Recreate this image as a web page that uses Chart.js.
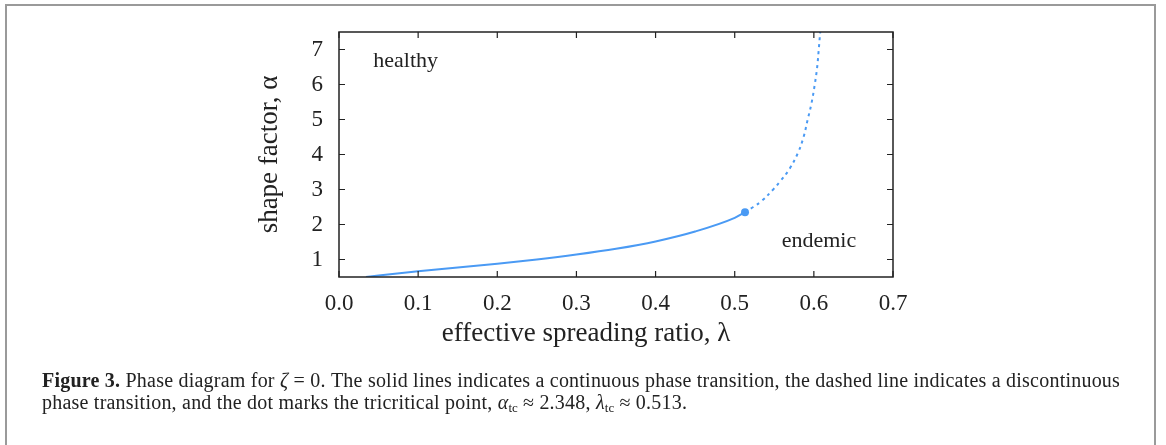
<!DOCTYPE html>
<html>
<head>
<meta charset="utf-8">
<script src="https://cdn.jsdelivr.net/npm/chart.js@4.4.1/dist/chart.umd.min.js"></script>
<style>
  html, body { margin: 0; padding: 0; background: #fff; }
  #wrap { position: relative; width: 1166px; height: 445px; overflow: hidden; }
  #frame { position: absolute; left: 5px; top: 4px; width: 1151px; height: 460px;
           border: 2px solid #9a9a9a; box-sizing: border-box; }
  #c { position: absolute; left: 0; top: 0; }
  #cap { position: absolute; left: 42px; top: 369px; font-family: "Liberation Serif", serif;
         font-size: 20px; line-height: 22px; letter-spacing: 0.22px; color: #222; white-space: nowrap; }
  #cap sub { font-size: 13px; vertical-align: -3px; line-height: 0; letter-spacing: 0; }
</style>
</head>
<body>
<div id="wrap">
  <div id="frame"></div>
  <canvas id="c" width="1166" height="445"></canvas>
  <div id="cap"><b>Figure 3.</b> Phase diagram for <i>ζ</i> = 0. The solid lines indicates a continuous phase transition, the dashed line indicates a discontinuous<br>phase transition, and the dot marks the tricritical point, <i>α</i><sub>tc</sub> ≈ 2.348, <i>λ</i><sub>tc</sub> ≈ 0.513.</div>
</div>
<script>
// valeurs
var lamSolid   = [0.034, 0.05, 0.1, 0.15, 0.2, 0.25, 0.3, 0.35, 0.4, 0.45, 0.5, 0.513];
var alphaSolid = [0.5, 0.542, 0.662, 0.772, 0.882, 1.002, 1.142, 1.307, 1.517, 1.80, 2.19, 2.348];

var lamDashed   = [0.513, 0.5235, 0.534, 0.549, 0.557, 0.569, 0.580, 0.587, 0.592, 0.597, 0.601, 0.604, 0.606, 0.608];
var alphaDashed = [2.348, 2.50, 2.67, 3.01, 3.22, 3.58, 4.05, 4.50, 4.98, 5.46, 5.98, 6.46, 6.95, 7.5];

var lamTc = 0.513, alphaTc = 2.348;

var xTicks = [0.0, 0.1, 0.2, 0.3, 0.4, 0.5, 0.6, 0.7];
var yTicks = [1, 2, 3, 4, 5, 6, 7];

var blue = '#4a9af4';
var ink = '#222';
var serif = '"Liberation Serif", serif';

function pts(xs, ys) {
  return xs.map(function (x, i) { return { x: x, y: ys[i] }; });
}

// cadre + graduations vers l'interieur, textes
var decor = {
  id: 'decor',
  afterDatasetsDraw: function (chart) {
    var ctx = chart.ctx, a = chart.chartArea;
    var xs = chart.scales.x, ys = chart.scales.y;
    ctx.save();
    ctx.strokeStyle = ink;
    ctx.lineWidth = 1.5;
    ctx.strokeRect(a.left, a.top, a.right - a.left, a.bottom - a.top);
    ctx.lineWidth = 1.2;
    ctx.beginPath();
    xTicks.forEach(function (v) {
      var p = xs.getPixelForValue(v);
      ctx.moveTo(p, a.bottom); ctx.lineTo(p, a.bottom - 6);
      ctx.moveTo(p, a.top); ctx.lineTo(p, a.top + 6);
    });
    yTicks.forEach(function (v) {
      var p = ys.getPixelForValue(v);
      ctx.moveTo(a.left, p); ctx.lineTo(a.left + 6, p);
      ctx.moveTo(a.right, p); ctx.lineTo(a.right - 6, p);
    });
    ctx.stroke();

    ctx.fillStyle = ink;
    ctx.font = '22px ' + serif;
    ctx.textAlign = 'left';
    ctx.textBaseline = 'alphabetic';
    ctx.fillText('healthy', xs.getPixelForValue(0.0433), ys.getPixelForValue(6.5));
    ctx.fillText('endemic', xs.getPixelForValue(0.5594), ys.getPixelForValue(1.36));

    ctx.font = '27px ' + serif;
    ctx.textAlign = 'center';
    ctx.fillText('effective spreading ratio, λ', (a.left + a.right) / 2 - 30, a.bottom + 64);
    ctx.translate(270, (a.top + a.bottom) / 2);
    ctx.rotate(-Math.PI / 2);
    ctx.textBaseline = 'middle';
    ctx.fillText('shape factor, α', 0, 0);
    ctx.restore();
  }
};

var el = document.getElementById('c');
var chart = new Chart(el, {
  type: 'scatter',
  data: {
    datasets: [{
      data: pts(lamSolid, alphaSolid),
      showLine: true,
      borderColor: blue,
      borderWidth: 2,
      pointRadius: 0,
      cubicInterpolationMode: 'monotone'
    }, {
      data: pts(lamDashed, alphaDashed),
      showLine: true,
      borderColor: blue,
      borderWidth: 2,
      borderDash: [3, 4],
      pointRadius: 0,
      tension: 0.4
    }, {
      data: [{ x: lamTc, y: alphaTc }],
      pointRadius: 4,
      pointBackgroundColor: blue,
      pointBorderWidth: 0
    }]
  },
  options: {
    responsive: false,
    animation: false,
    layout: { padding: { left: 0, right: 273, top: 32, bottom: 0 } },
    plugins: { legend: { display: false }, tooltip: { enabled: false } },
    scales: {
      x: {
        type: 'linear', min: 0, max: 0.7,
        grid: { display: false, drawTicks: false },
        border: { display: false },
        afterBuildTicks: function (s) { s.ticks = xTicks.map(function (v) { return { value: v }; }); },
        afterFit: function (s) { s.height = 168; },
        ticks: {
          padding: 13, color: ink, font: { family: serif, size: 23 },
          maxRotation: 0, autoSkip: false,
          callback: function (v) { return v.toFixed(1); }
        }
      },
      y: {
        type: 'linear', min: 0.5, max: 7.5,
        grid: { display: false, drawTicks: false },
        border: { display: false },
        afterBuildTicks: function (s) { s.ticks = yTicks.map(function (v) { return { value: v }; }); },
        afterFit: function (s) { s.width = 339; },
        ticks: {
          padding: 16, color: ink, font: { family: serif, size: 23 },
          callback: function (v) { return String(v); }
        }
      }
    }
  },
  plugins: [decor]
});
</script>
</body>
</html>
